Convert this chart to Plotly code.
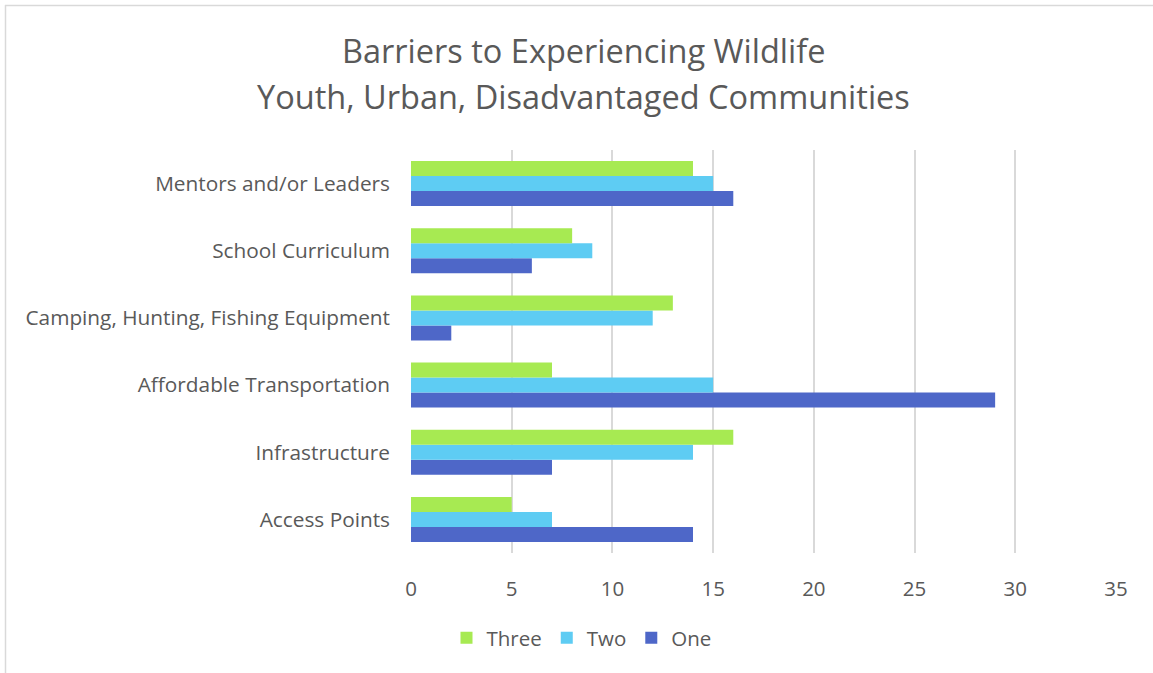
import plotly.graph_objects as go

categories = ["Access Points", "Infrastructure", "Affordable Transportation",
              "Camping, Hunting, Fishing Equipment", "School Curriculum", "Mentors and/or Leaders"]
one = [14, 7, 29, 2, 6, 16]
two = [7, 14, 15, 12, 9, 15]
three = [5, 16, 7, 13, 8, 14]
x_ticks = [0, 5, 10, 15, 20, 25, 30, 35]

FONT = "Open Sans"
TXT = "#595959"
FS = 20.8

fig = go.Figure()
fig.add_trace(go.Bar(y=categories, x=one, name="One", orientation="h",
                     marker=dict(color="#4E67C8", line=dict(width=0))))
fig.add_trace(go.Bar(y=categories, x=two, name="Two", orientation="h",
                     marker=dict(color="#5ECCF3", line=dict(width=0))))
fig.add_trace(go.Bar(y=categories, x=three, name="Three", orientation="h",
                     marker=dict(color="#A7EA52", line=dict(width=0))))

fig.update_layout(
    width=1153, height=673,
    margin=dict(l=411, r=37, t=150, b=120),
    paper_bgcolor="white", plot_bgcolor="white",
    barmode="group", bargap=0.33, bargroupgap=0,
    font=dict(family=FONT, color=TXT, size=FS),
    showlegend=True,
    legend=dict(orientation="h", traceorder="reversed", x=(581.5 - 411) / 705, xanchor="center",
                y=-0.211, yanchor="middle", font=dict(size=20.5, color=TXT),
                itemwidth=30, tracegroupgap=0),
    xaxis=dict(range=[0, 35], tickvals=x_ticks, showgrid=True, gridcolor="#D9D9D9",
               gridwidth=1.5, zeroline=False, showline=False, ticks="",
               tickfont=dict(size=20.5, color=TXT), ticklabelstandoff=21),
    yaxis=dict(showgrid=False, zeroline=False, showline=False, ticks="",
               tickfont=dict(size=FS, color=TXT), ticklabelstandoff=20,
               categoryorder="array", categoryarray=categories),
    annotations=[
        dict(text="Barriers to Experiencing Wildlife", xref="paper", yref="paper",
             x=(583 - 411) / 705, y=(553 - 50) / 403, xanchor="center", yanchor="middle",
             showarrow=False, font=dict(size=32.5, color=TXT, family=FONT)),
        dict(text="Youth, Urban, Disadvantaged Communities", xref="paper", yref="paper",
             x=(583 - 411) / 705, y=(553 - 96) / 403, xanchor="center", yanchor="middle",
             showarrow=False, font=dict(size=32.5, color=TXT, family=FONT)),
    ],
    shapes=[
        dict(type="line", xref="paper", yref="paper", x0=-406 / 705, x1=742 / 705,
             y0=(553 - 5.5) / 403, y1=(553 - 5.5) / 403, line=dict(color="#D9D9D9", width=1.5)),
        dict(type="line", xref="paper", yref="paper", x0=-405.5 / 705, x1=-405.5 / 705,
             y0=(553 - 5) / 403, y1=(553 - 673) / 403, line=dict(color="#D9D9D9", width=1.5)),
    ],
)

fig.write_html("out.html", config={"displayModeBar": False},
               post_script="document.body.style.margin='0';")
